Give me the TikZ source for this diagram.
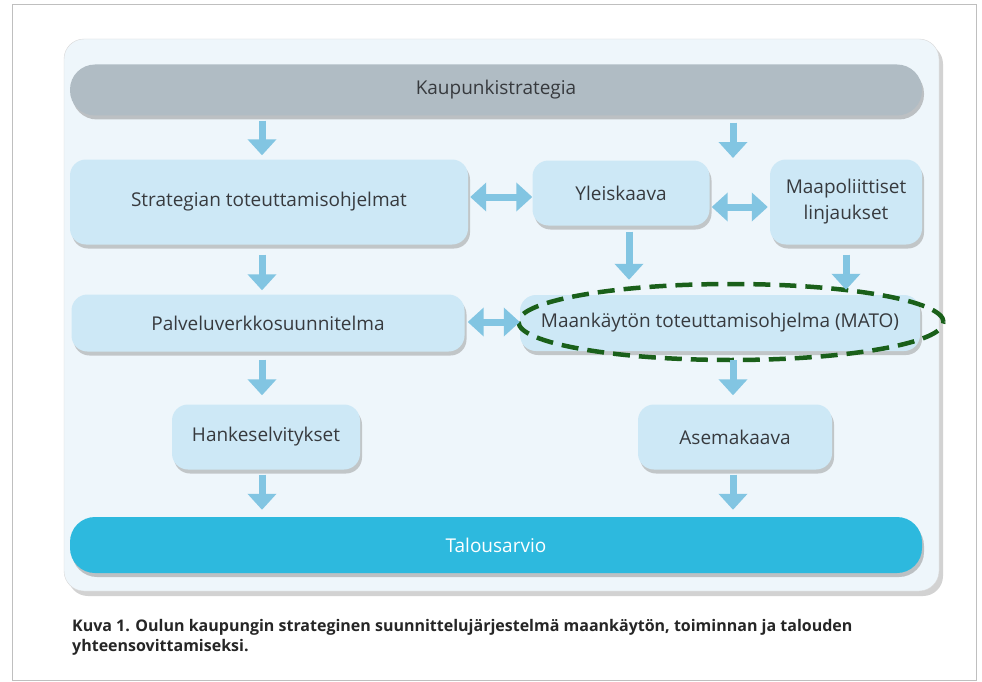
\documentclass[tikz,border=0pt]{standalone}
\usepackage{fontspec}
\setmainfont{Open Sans}
\usetikzlibrary{arrows.meta,positioning,shapes.geometric,shadows,calc}
\definecolor{panelblue}{RGB}{238,246,251}
\definecolor{boxblue}{RGB}{205,232,246}
\definecolor{bargray}{RGB}{176,188,196}
\definecolor{barcyan}{RGB}{45,185,222}
\definecolor{arrowblue}{RGB}{130,197,226}
\definecolor{textgray}{RGB}{55,58,62}
\definecolor{matogreen}{RGB}{26,96,26}
\tikzset{
  planbox/.style={fill=boxblue, rounded corners=16pt, align=center, text=textgray,
    font=\fontsize{19}{26}\selectfont, inner sep=0pt,
    drop shadow={shadow xshift=2pt, shadow yshift=-4pt, fill=black!45, opacity=0.45}},
  planbar/.style={rounded corners=25pt, align=center, inner sep=0pt,
    font=\fontsize{19}{22}\selectfont,
    drop shadow={shadow xshift=2pt, shadow yshift=-4pt, fill=black!50, opacity=0.45}},
  planarrow/.style={-{Triangle[width=28pt,length=16pt]}, line width=7pt, draw=arrowblue},
  planbiarrow/.style={{Triangle[width=28pt,length=16pt]}-{Triangle[width=28pt,length=16pt]},
    line width=7pt, draw=arrowblue}
}

\begin{document}
\begin{tikzpicture}[x=1pt, y=-1pt]
  \useasboundingbox (0,0) rectangle (982,682);
  \fill[white] (0,0) rectangle (982,682);
  % frame and panel
  \draw[black!25, line width=1pt] (12,5) rectangle (976,680);
  \fill[black!35, opacity=0.5, rounded corners=20pt] (68,44) rectangle (943,596);
  \draw[black!15, fill=panelblue, rounded corners=20pt] (64,39) rectangle (939,591);

  % bars
  \node[planbar, fill=bargray, text=textgray, minimum width=852pt, minimum height=51pt]
    (kaupunki) at (496,90) {Kaupunkistrategia};
  \node[planbar, fill=barcyan, text=white, minimum width=852pt, minimum height=56pt]
    (talous) at (496,545) {Talousarvio};

  % boxes
  \node[planbox, minimum width=398pt, minimum height=85pt] (strat) at (269,202)
    {Strategian toteuttamisohjelmat};
  \node[planbox, minimum width=177pt, minimum height=65pt] (yleis) at (621,193)
    {Yleiskaava};
  \node[planbox, minimum width=152pt, minimum height=85pt] (maapol) at (846,202)
    {Maapoliittiset\\linjaukset};
  \node[planbox, minimum width=393pt, minimum height=57pt] (palvelu) at (268,323)
    {Palveluverkkosuunnitelma};
  \node[planbox, minimum width=400pt, minimum height=56pt] (mato) at (720,323)
    {Maankäytön toteuttamisohjelma (MATO)};
  \node[planbox, minimum width=188pt, minimum height=65pt] (hanke) at (266,437)
    {Hankeselvitykset};
  \node[planbox, minimum width=194pt, minimum height=65pt] (asema) at (735,437)
    {Asemakaava};

  % highlight
  \node[draw=matogreen, line width=4.5pt, dash pattern=on 17pt off 9pt,
    ellipse, minimum width=425pt, minimum height=76pt] (matoring) at (731,322) {};

  % columns and rows
  \coordinate (leftcol) at (262,0);
  \coordinate (rightcol) at (733,0);
  \coordinate (biend) at (733,158);
  \coordinate (toprow) at (0,197);
  \coordinate (siderow) at (0,207);
  \coordinate (midrow) at (0,322);

  % arrows
  \draw[planarrow, shorten <=5pt, shorten >=4pt] (kaupunki.south -| leftcol) -- (strat.north -| leftcol);
  \draw[planarrow, shorten <=7pt] (kaupunki.south -| rightcol) -- (biend);
  \draw[planbiarrow, shorten <=2pt] (strat.east |- toprow) -- (yleis.west |- toprow);
  \draw[planbiarrow, shorten <=2pt, shorten >=2pt] (yleis.east |- siderow) -- (maapol.west |- siderow);
  \draw[planarrow, shorten <=10pt, shorten >=4pt] (strat.south -| leftcol) -- (palvelu.north -| leftcol);
  \draw[planarrow, shorten <=6pt, shorten >=15pt] ([xshift=8pt]yleis.south) -- ([xshift=8pt]yleis.south |- mato.north);
  \draw[planarrow, shorten <=10pt, shorten >=5pt] (maapol.south) -- (maapol.south |- mato.north);
  \draw[planbiarrow, shorten <=3pt] (palvelu.east |- midrow) -- (mato.west |- midrow);
  \draw[planarrow, shorten <=8pt, shorten >=9pt] (palvelu.south -| leftcol) -- (hanke.north -| leftcol);
  \draw[planarrow, shorten <=9pt, shorten >=9pt] (mato.south -| rightcol) -- (asema.north -| rightcol);
  \draw[planarrow, shorten <=5pt, shorten >=7pt] (hanke.south -| leftcol) -- (talous.north -| leftcol);
  \draw[planarrow, shorten <=5pt, shorten >=7pt] (asema.south -| rightcol) -- (talous.north -| rightcol);

  % caption
  \node[anchor=north west, align=left, text=black!85, inner sep=0pt,
    font=\fontsize{16}{20}\selectfont\bfseries] (caption) at (72,619)
    {Kuva 1. Oulun kaupungin strateginen suunnittelujärjestelmä maankäytön, toiminnan ja talouden\\
     yhteensovittamiseksi.};
\end{tikzpicture}
\end{document}
